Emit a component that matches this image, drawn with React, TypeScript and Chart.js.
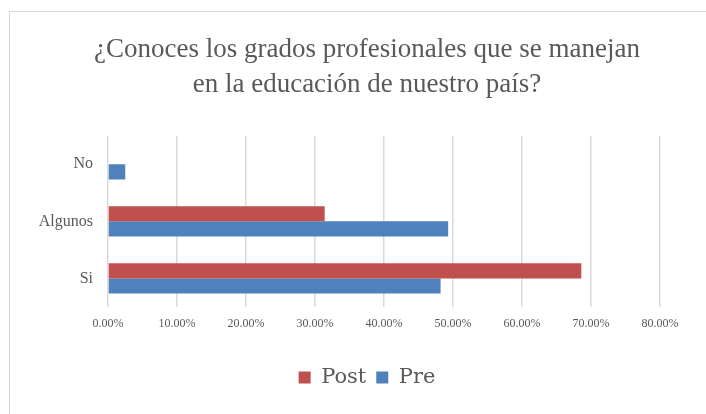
import React, { useEffect, useRef } from "react";
import { Chart, registerables } from "chart.js";

Chart.register(...registerables);

const categories = ["No", "Algunos", "Si"];
const postValues = [0, 31.4, 68.6];
const preValues = [2.5, 49.3, 48.2];
const titleLines = [
  "¿Conoces los grados profesionales que se manejan",
  "en la educación de nuestro país?",
];
const seriesNames = ["Post", "Pre"];

export default function App() {
  const ref = useRef<HTMLCanvasElement | null>(null);

  useEffect(() => {
    document.body.style.margin = "0";
    const ctx = ref.current;
    if (!ctx) return;
    const chart = new Chart(ctx, {
      type: "bar",
      data: {
        labels: categories,
        datasets: [
          {
            label: seriesNames[0],
            data: postValues,
            backgroundColor: "#C0504D",
            categoryPercentage: 0.53,
            barPercentage: 1,
          },
          {
            label: seriesNames[1],
            data: preValues,
            backgroundColor: "#4F81BD",
            categoryPercentage: 0.53,
            barPercentage: 1,
          },
        ],
      },
      options: {
        indexAxis: "y",
        animation: false,
        responsive: false,
        maintainAspectRatio: false,
        layout: { padding: { left: 28, right: 0, top: 0, bottom: 16 } },
        scales: {
          x: {
            min: 0,
            max: 80,
            ticks: {
              stepSize: 10,
              color: "#595959",
              padding: 10,
              font: { family: "Liberation Serif", size: 12 },
              callback: (v: any) => Number(v).toFixed(2) + "%",
              maxRotation: 0,
            },
            grid: { color: "#d9d9d9", lineWidth: 1.5, drawTicks: false },
            border: { display: false },
            afterFit: (s: any) => {
              s.height = 50;
              s.paddingRight = 46;
            },
          },
          y: {
            ticks: {
              color: "#595959",
              padding: 15,
              font: { family: "Liberation Serif", size: 16 },
            },
            grid: { display: false, drawTicks: false },
            border: { display: false },
            afterFit: (s: any) => {
              s.width = 80;
            },
          },
        },
        plugins: {
          title: {
            display: true,
            text: titleLines,
            color: "#595959",
            font: { family: "Liberation Serif", size: 27, weight: 400, lineHeight: 1.3 },
            padding: { top: 32.5, bottom: 33 },
          },
          legend: {
            position: "bottom",
            labels: {
              color: "#595959",
              boxWidth: 12,
              boxHeight: 12,
              padding: 10,
              font: { family: "DejaVu Serif", size: 21 },
            },
          },
          tooltip: { enabled: false },
        },
      },
    });
    return () => chart.destroy();
  }, []);

  return (
    <div style={{ position: "relative", width: 706, height: 414, background: "#fff" }}>
      <div
        style={{
          position: "absolute",
          left: 9,
          top: 11,
          right: 0,
          bottom: 0,
          borderLeft: "1px solid #d9d9d9",
          borderTop: "1px solid #d9d9d9",
        }}
      />
      <canvas ref={ref} width={706} height={414} style={{ position: "absolute", left: 0, top: 0 }} />
    </div>
  );
}
